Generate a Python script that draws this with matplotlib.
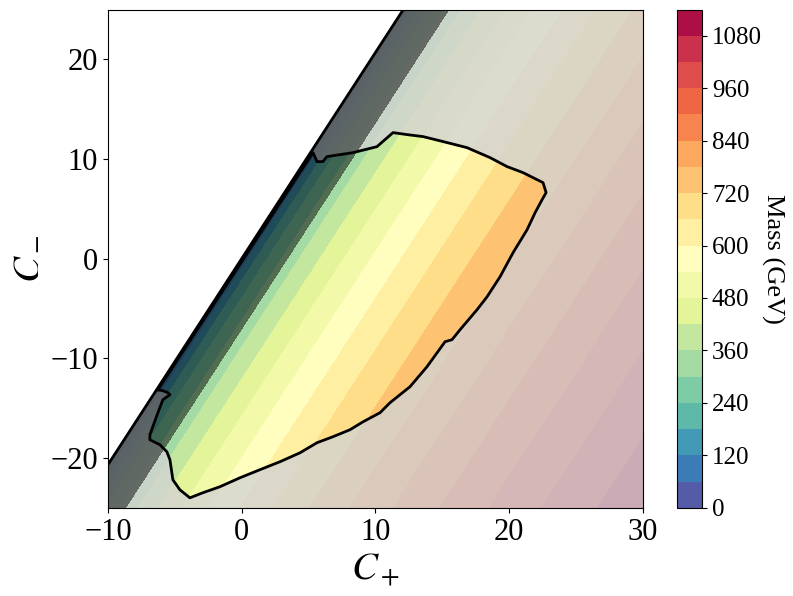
import numpy as np
import matplotlib
matplotlib.use('Agg')
import matplotlib.pyplot as plt
from matplotlib.path import Path

plt.rcParams['font.family'] = ['Liberation Serif', 'DejaVu Serif']
plt.rcParams['mathtext.fontset'] = 'stix'

# axis ranges
cp_range = [-10, 30]
cm_range = [-25, 25]

# mass^2 (GeV^2) linear in the couplings: m2 = a0 + a_plus*C+ + a_minus*C-
a0 = 0.0
a_plus = 30150.0
a_minus = -14570.0

# light-mass band (mass below this is shaded dark)
m_cut = 320.0

# contour levels of the colour map
levels = np.arange(0, 1141, 60)
cbar_ticks = np.arange(0, 1081, 120)

# boundary of the allowed region (C+, C-)
region_cp = [-6.26, 5.33, 5.63, 6.07, 6.37, 8.32, 10.11, 11.31, 12.36, 13.55,
             15.05, 16.84, 18.56, 19.83, 21.03, 22.52, 22.75, 22.45, 21.93, 21.33,
             20.28, 19.31, 18.34, 17.59, 16.32, 15.72, 15.20, 13.85, 12.58, 11.08,
             10.34, 9.07, 8.09, 6.82, 5.63, 4.36, 2.86, 1.36, -0.13, -1.63,
             -2.90, -3.87, -4.62, -5.14, -5.36, -5.59, -6.11, -6.86, -6.86, -6.64,
             -6.26, -5.89, -5.36, -5.51, -5.89, -6.26]
region_cm = [-13.15, 10.64, 9.74, 9.74, 10.24, 10.64, 11.24, 12.65, 12.45, 12.25,
             11.75, 11.14, 10.14, 9.24, 8.63, 7.63, 6.63, 5.92, 4.62, 2.91,
             0.60, -1.81, -3.82, -5.12, -7.13, -8.13, -8.33, -10.84, -12.85, -14.46,
             -15.46, -16.37, -17.17, -17.87, -18.47, -19.48, -20.38, -21.18, -21.99, -22.89,
             -23.49, -24.00, -23.19, -22.19, -20.18, -19.38, -18.67, -18.17, -17.67, -16.87,
             -15.46, -14.16, -13.65, -13.45, -13.25, -13.15]

cp = np.linspace(cp_range[0], cp_range[1], 800)
cm = np.linspace(cm_range[0], cm_range[1], 800)
CP, CM = np.meshgrid(cp, cm)
m2 = a0 + a_plus*CP + a_minus*CM
mass = np.sqrt(np.where(m2 >= 0, m2, np.nan))

poly = Path(np.column_stack([region_cp, region_cm]))
inside = poly.contains_points(np.column_stack([CP.ravel(), CM.ravel()])).reshape(CP.shape)
outside = np.where(np.isnan(mass), np.nan, np.where(inside, 0.0, 1.0))

fig = plt.figure(figsize=(7.93, 5.96), dpi=100)
ax = fig.add_axes([0.136, 0.148, 0.675, 0.836])
cax = fig.add_axes([0.854, 0.148, 0.0315, 0.836])

cf = ax.contourf(CP, CM, mass, levels=levels, cmap='Spectral_r')
ax.contourf(CP, CM, outside, levels=[0.5, 1.5], colors='lightgray', alpha=0.8)
ax.contourf(CP, CM, mass, levels=[0, m_cut], colors='k', alpha=0.5)
ax.contour(CP, CM, m2, levels=[0], colors='k', linewidths=2)
ax.plot(region_cp, region_cm, color='k', lw=2)

ax.set_xlim(cp_range)
ax.set_ylim(cm_range)
ax.set_xticks([-10, 0, 10, 20, 30])
ax.set_yticks([-20, -10, 0, 10, 20])
ax.tick_params(labelsize=22)
ax.set_xlabel(r'$C_+$', fontsize=28)
ax.set_ylabel(r'$C_-$', fontsize=28)

cbar = fig.colorbar(cf, cax=cax, ticks=cbar_ticks)
cbar.ax.tick_params(labelsize=18)
cbar.set_label('Mass (GeV)', rotation=270, fontsize=19, labelpad=16)

fig.savefig('out.png', dpi=100)
